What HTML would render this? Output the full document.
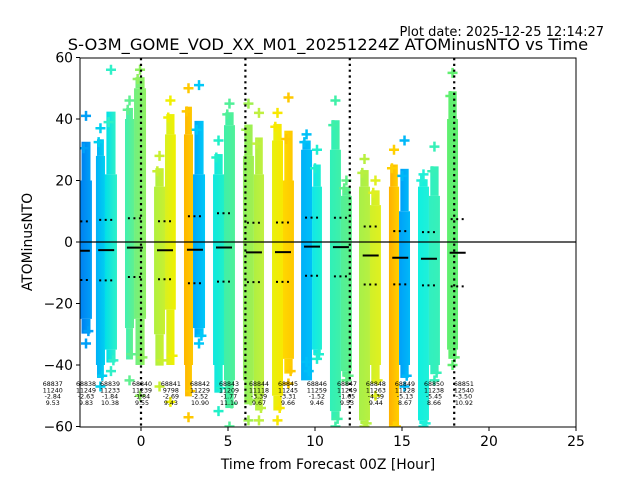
<!DOCTYPE html>
<html><head><meta charset="utf-8"><style>
body{margin:0;background:#fff}
svg{display:block;font-family:"DejaVu Sans","Liberation Sans",sans-serif}
</style></head><body>
<svg id="chart" width="640" height="480" xmlns="http://www.w3.org/2000/svg">
<defs><clipPath id="plotclip"><rect x="80" y="58" width="496" height="369"/></clipPath></defs>
<text x="604" y="36" font-size="13" text-anchor="end">Plot date: 2025-12-25 12:14:27</text>
<text x="328" y="50" font-size="16.3" text-anchor="middle">S-O3M_GOME_VOD_XX_M01_20251224Z ATOMinusNTO vs Time</text>
<g id="marks" clip-path="url(#plotclip)"></g>
<g id="axes"></g>
<text x="328" y="469" font-size="13.9" text-anchor="middle">Time from Forecast 00Z [Hour]</text>
<text x="32" y="242" font-size="13.9" text-anchor="middle" transform="rotate(-90 32 242)">ATOMinusNTO</text>
</svg>
<script>
const xTicks=[0,5,10,15,20,25];
const yTicks=[60,40,20,0,-20,-40,-60];
const stripStart=[-3.5,-2.59,-2.07,-0.92,-0.4,0.75,1.38,2.47,2.99,4.14,4.77,5.86,6.49,7.53,8.16,9.2,9.83,10.86,11.49,12.53,13.16,14.25,14.83,15.92,16.55,17.59];
const stripEnd=[-2.82,-2.07,-1.38,-0.4,0.29,1.38,2.0,2.99,3.68,4.77,5.4,6.49,7.07,8.16,8.79,9.83,10.4,11.49,12.12,13.16,13.79,14.83,15.46,16.55,17.18,18.22];
const stripTop=[20,28,22,40,50,18,35,35,22,22,38,28,22,33,20,30,18,30,15,18,12,18,10,18,15,40];
const stripBot=[-25,-40,-35,-28,-25,-30,-22,-40,-28,-40,-45,-45,-50,-50,-38,-45,-35,-55,-42,-58,-40,-60,-40,-58,-40,-35];
const outTop=[41,37,56,46,56,28,46,50,51,33,45,45,42,42,47,35,30,46,20,27,20,30,33,22,31,55];
const outBot=[-33,-47,-42,-45,-50,-47,-52,-57,-33,-55,-60,-58,-58,-58,-46,-39,-38,-60,-45,-60,-50,-60,-47,-60,-45,-40];
const colL=["#0080f0","#00b0f8","#00e0e8","#40f0b0","#70f080","#b0f040","#d8f020","#ffb800","#00a8f8","#10e8e0","#40f0a8","#90f060","#b0f040","#e8f010","#ffd800","#00b0f8","#10e8e8","#30f0b8","#50f098","#a8f048","#d0f028","#ffb000","#00a0f8","#10f0e0","#30f0c0","#60f070"];
const colR=["#00a0f8","#00d0f0","#30f0c8","#60f090","#90f060","#c8f030","#f0f000","#ffc800","#00c8f8","#20f0c8","#50f098","#a0f050","#c0f040","#f8e800","#ffc800","#00c0f8","#20f0d0","#40f0a8","#60f088","#b8f040","#e0f020","#ffd000","#00b8f8","#20f0d8","#38f0b8","#60f070"];
const meanX=[-3.4,-2.0,-0.35,1.38,3.1,4.77,6.49,8.16,9.83,11.49,13.2,14.9,16.55,18.2];
const meanVal=[-2.84,-2.63,-1.84,-2.69,-2.52,-1.77,-3.39,-3.31,-1.52,-1.65,-4.39,-5.13,-5.45,-3.50];
const stdVal=[9.53,9.83,9.55,9.43,10.90,11.10,9.67,9.66,9.46,9.53,9.44,8.67,8.66,10.92];
const vLines=[0,6,12,18];
const labelX=[-5.07,-3.16,-1.78,0.06,1.72,3.39,5.06,6.78,8.45,10.11,11.84,13.5,15.17,16.84,18.56];
const labelId=["68837","68838","68839","68840","68841","68842","68843","68844","68845","68846","68847","68848","68849","68850","68851"];
const labelN=["11240","11249","11233","11239","9798","11229","11209","11118","11245","11259","11249","11263","11228","11238","12540"];
const labelAvg=["-2.84","-2.63","-1.84","-1.84","-2.69","-2.52","-1.77","-3.39","-3.31","-1.52","-1.65","-4.39","-5.13","-5.45","-3.50"];
const labelStd=["9.53","9.83","10.38","9.55","9.43","10.90","11.10","9.67","9.66","9.46","9.53","9.44","8.67","8.66","10.92"];

const NS="http://www.w3.org/2000/svg";
const X=h=>141+h*17.4, Y=v=>242-v*3.075;
function mk(t,a,p){const e=document.createElementNS(NS,t);for(const k in a)e.setAttribute(k,a[k]);p.appendChild(e);return e;}
const marks=document.getElementById('marks'), axes=document.getElementById('axes'), svg=document.getElementById('chart');
const defs=svg.querySelector('defs');
for(let i=0;i<stripStart.length;i++){
  const g=mk('linearGradient',{id:'g'+i,x1:'0',x2:'1',y1:'0',y2:'0'},defs);
  mk('stop',{offset:'0','stop-color':colL[i]},g);mk('stop',{offset:'1','stop-color':colR[i]},g);
  const x0=X(stripStart[i]),x1=X(stripEnd[i]),w=x1-x0;
  const tt=stripTop[i]+(outTop[i]-stripTop[i])*0.6, bb=stripBot[i]+(outBot[i]-stripBot[i])*0.6;
  const t=mk('rect',{x:x0+w*0.12,y:Y(tt),width:w*0.76,height:Y(stripTop[i])-Y(tt),fill:'url(#g'+i+')'},marks);
  
  
  const b=mk('rect',{x:x0+w*0.12,y:Y(stripBot[i]),width:w*0.76,height:Y(bb)-Y(stripBot[i]),fill:'url(#g'+i+')'},marks);
  
  
  const r=mk('rect',{x:x0,y:Y(stripTop[i]),width:w,height:Y(stripBot[i])-Y(stripTop[i]),fill:'url(#g'+i+')'},marks);
  
  
  [[outTop[i],x0+w*0.5],[(stripTop[i]+outTop[i])/2,x0+w*0.3],[outBot[i],x0+w*0.5],[(stripBot[i]+outBot[i])/2,x0+w*0.7]].forEach(([v,cx])=>{
    const c=mk('path',{d:`M${cx-5},${Y(v)}h10M${cx},${Y(v)-5}v10`,stroke:colR[i],'stroke-width':2.5},marks);
    
    
  });
}
mk('line',{x1:80,x2:576,y1:Y(0),y2:Y(0),stroke:'#000','stroke-width':1.2},marks);
vLines.forEach(h=>{const l=mk('line',{x1:X(h),x2:X(h),y1:58,y2:427,stroke:'#000','stroke-width':2.2,'stroke-dasharray':'2.2,3.6'},marks);
  
  });
for(let i=0;i<meanX.length;i++){
  const cx=X(meanX[i]);
  const m=mk('line',{x1:cx-8,x2:cx+8,y1:Y(meanVal[i]),y2:Y(meanVal[i]),stroke:'#000','stroke-width':2},marks);
  
  
  [meanVal[i]+stdVal[i],meanVal[i]-stdVal[i]].forEach(v=>{
    const d=mk('line',{x1:cx-7,x2:cx+7,y1:Y(v),y2:Y(v),stroke:'#000','stroke-width':2,'stroke-dasharray':'2,3.5'},marks);
    
    
  });
}
for(let i=0;i<labelId.length;i++){
  const t=mk('text',{x:X(labelX[i]),y:386,'font-size':6.3,'text-anchor':'middle',fill:'#000'},svg);
  
  
  [labelId[i],labelN[i],labelAvg[i],labelStd[i]].forEach((s,k)=>{const sp=mk('tspan',{x:X(labelX[i]),dy:k?6.3:0},t);sp.textContent=s;});
}
const f=mk('rect',{x:80,y:58,width:496,height:369,fill:'none',stroke:'#000','stroke-width':1},axes);


xTicks.forEach(v=>{mk('line',{x1:X(v),x2:X(v),y1:427,y2:431,stroke:'#000'},axes);
  const t=mk('text',{x:X(v),y:446,'font-size':13.9,'text-anchor':'middle'},axes);t.textContent=v;
  
  });
yTicks.forEach(v=>{mk('line',{x1:76,x2:80,y1:Y(v),y2:Y(v),stroke:'#000'},axes);
  const t=mk('text',{x:73,y:Y(v)+5,'font-size':13.9,'text-anchor':'end'},axes);t.textContent=v<0?'\u2212'+(-v):v;
  
  });
</script>
</body></html>
